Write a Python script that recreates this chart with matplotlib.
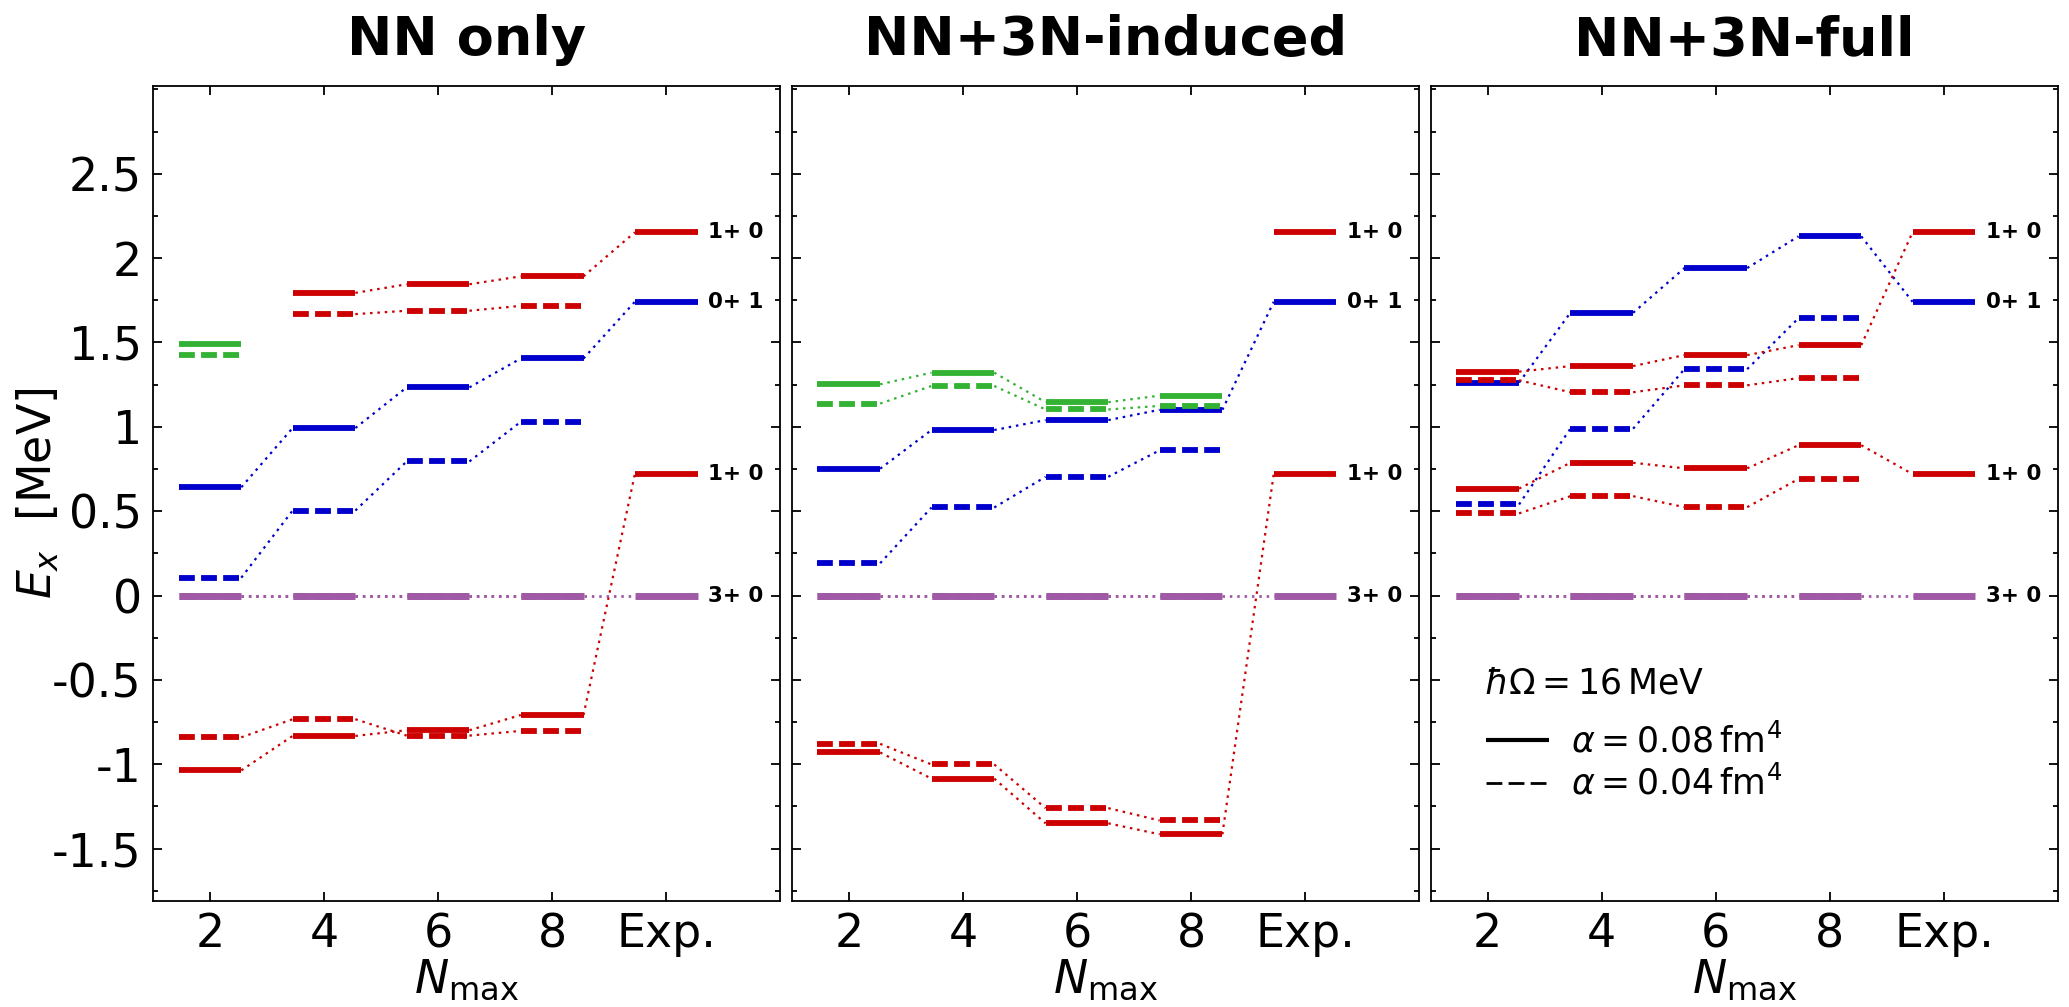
import numpy as np
import matplotlib.pyplot as plt
from matplotlib.lines import Line2D
from matplotlib.ticker import MultipleLocator

plt.rcParams['font.family'] = 'DejaVu Sans'
plt.rcParams['mathtext.fontset'] = 'dejavusans'
plt.rcParams['lines.scale_dashes'] = False

nan = np.nan

# x categories and panel titles
nmax_labels = ['2', '4', '6', '8', 'Exp.']
titles = ['NN only', 'NN+3N-induced', 'NN+3N-full']
ytick_vals = [2.5, 2, 1.5, 1, 0.5, 0, -0.5, -1, -1.5]
ytick_labels = ['2.5', '2', '1.5', '1', '0.5', '0', '-0.5', '-1', '-1.5']

# experimental levels (shared by all panels)
exp_energy = [2.153, 1.741, 0.720, 0.0]
exp_label = ['1+ 0', '0+ 1', '1+ 0', '3+ 0']

# theory levels at Nmax = 2, 4, 6, 8  (a08: alpha=0.08 fm^4, a04: alpha=0.04 fm^4)
# --- NN only
nn_red_hi_a08 = [nan, 1.794, 1.845, 1.892]
nn_red_hi_a04 = [nan, 1.668, 1.688, 1.717]
nn_green_a08 = [1.489, nan, nan, nan]
nn_green_a04 = [1.425, nan, nan, nan]
nn_blue_a08 = [0.642, 0.993, 1.234, 1.405]
nn_blue_a04 = [0.106, 0.504, 0.795, 1.030]
nn_red_lo_a08 = [-1.036, -0.832, -0.798, -0.708]
nn_red_lo_a04 = [-0.840, -0.733, -0.830, -0.802]
# --- NN+3N-induced
ind_green_a08 = [1.252, 1.321, 1.146, 1.185]
ind_green_a04 = [1.138, 1.242, 1.103, 1.124]
ind_blue_a08 = [0.752, 0.981, 1.040, 1.101]
ind_blue_a04 = [0.192, 0.522, 0.704, 0.861]
ind_red_lo_a08 = [-0.930, -1.085, -1.350, -1.415]
ind_red_lo_a04 = [-0.879, -1.001, -1.260, -1.333]
# --- NN+3N-full
full_blue_a08 = [1.262, 1.676, 1.941, 2.129]
full_blue_a04 = [0.540, 0.989, 1.342, 1.644]
full_red_hi_a08 = [1.327, 1.360, 1.425, 1.484]
full_red_hi_a04 = [1.276, 1.205, 1.246, 1.289]
full_red_lo_a08 = [0.634, 0.787, 0.754, 0.891]
full_red_lo_a04 = [0.487, 0.589, 0.524, 0.691]
# ground state 3+0 everywhere
gs_level = [0.0, 0.0, 0.0, 0.0]

RED = '#cc0000'
BLUE = '#0000cc'
GREEN = '#33b233'
PURPLE = '#a05aa5'

# (values, color, dashed, index of connected exp level)
panels = [
    [(nn_blue_a04, BLUE, True, None), (nn_blue_a08, BLUE, False, 1),
     (nn_red_hi_a04, RED, True, None), (nn_red_hi_a08, RED, False, 0),
     (nn_red_lo_a04, RED, True, None), (nn_red_lo_a08, RED, False, 2),
     (nn_green_a04, GREEN, True, None), (nn_green_a08, GREEN, False, None),
     (gs_level, PURPLE, True, None), (gs_level, PURPLE, False, 3)],
    [(ind_blue_a04, BLUE, True, None), (ind_blue_a08, BLUE, False, 1),
     (ind_red_lo_a04, RED, True, None), (ind_red_lo_a08, RED, False, 2),
     (ind_green_a04, GREEN, True, None), (ind_green_a08, GREEN, False, None),
     (gs_level, PURPLE, True, None), (gs_level, PURPLE, False, 3)],
    [(full_blue_a08, BLUE, False, 1), (full_blue_a04, BLUE, True, None),
     (full_red_hi_a08, RED, False, 0), (full_red_hi_a04, RED, True, None),
     (full_red_lo_a08, RED, False, 2), (full_red_lo_a04, RED, True, None),
     (gs_level, PURPLE, True, None), (gs_level, PURPLE, False, 3)],
]
exp_colors = [RED, BLUE, RED, PURPLE]

HW = 0.275
DASH = (11.4, 4.5)
DOT = (1.8, 3.5)


def draw_series(ax, vals, color, dashed, exp_idx):
    x = np.arange(len(vals))
    vals = np.asarray(vals, float)
    lw = 5.0 if color == PURPLE else 4.2
    for xi, v in zip(x, vals):
        if np.isnan(v):
            continue
        if dashed:
            ax.plot([xi - HW, xi + HW], [v, v], color=color, lw=lw, dashes=DASH)
        else:
            ax.plot([xi - HW, xi + HW], [v, v], color=color, lw=lw,
                    solid_capstyle='butt')
    pts = list(zip(x, vals))
    if exp_idx is not None:
        pts.append((4, exp_energy[exp_idx]))
    clw = 2.0 if color == PURPLE else 1.6
    for (x0, y0), (x1, y1) in zip(pts[:-1], pts[1:]):
        if np.isnan(y0) or np.isnan(y1):
            continue
        ax.plot([x0 + HW, x1 - HW], [y0, y1], color=color, lw=clw, dashes=DOT)


fig, axes = plt.subplots(1, 3, figsize=(20.69, 10.07), dpi=100, sharey=True)
fig.subplots_adjust(left=0.0739, right=0.9947, bottom=0.1053, top=0.9146,
                    wspace=0.0183)

for k, ax in enumerate(axes):
    for vals, color, dashed, exp_idx in panels[k]:
        draw_series(ax, vals, color, dashed, exp_idx)
    for e, lab, c in zip(exp_energy, exp_label, exp_colors):
        ax.plot([4 - HW, 4 + HW], [e, e], color=c,
                lw=5.0 if c == PURPLE else 4.2, solid_capstyle='butt')
        ax.text(4.37, e, lab, fontsize=15.5, fontweight='bold',
                ha='left', va='center')

    ax.set_xlim(-0.5, 5.0)
    ax.set_ylim(-1.81, 3.02)
    ax.set_xticks(range(5))
    ax.set_xticklabels(nmax_labels)
    ax.set_yticks(ytick_vals)
    ax.set_yticklabels(ytick_labels)
    ax.yaxis.set_minor_locator(MultipleLocator(0.25))
    ax.tick_params(which='both', direction='in', top=True, right=True,
                   width=1.3)
    ax.tick_params(which='major', length=6.5, labelsize=33, pad=8)
    ax.tick_params(which='minor', length=3.3)
    if k > 0:
        ax.tick_params(labelleft=False)
    for sp in ax.spines.values():
        sp.set_linewidth(1.3)
    ax.set_title(titles[k], fontsize=39, fontweight='bold', pad=22)
    ax.set_xlabel(r'$N_{\mathrm{max}}$', fontsize=33, labelpad=0)

axes[0].set_ylabel(r'$E_x$  [MeV]', fontsize=33)
axes[0].yaxis.set_label_coords(-0.145, 0.5)

ax = axes[2]
ax.text(0.0845, 0.255, r'$\hbar\Omega = 16\,\mathrm{MeV}$', fontsize=25,
        transform=ax.transAxes, va='baseline')
handles = [Line2D([], [], color='k', lw=3.0, solid_capstyle='butt'),
           Line2D([], [], color='k', lw=2.0, dashes=DASH)]
ax.legend(handles, [r'$\alpha = 0.08\,\mathrm{fm}^4$', r'$\alpha = 0.04\,\mathrm{fm}^4$'],
          loc='upper left', bbox_to_anchor=(0.089, 0.218), frameon=False,
          fontsize=25, handlelength=1.8, handletextpad=0.63, labelspacing=0.18,
          borderpad=0, borderaxespad=0)

fig.savefig('out.png', dpi=100)
